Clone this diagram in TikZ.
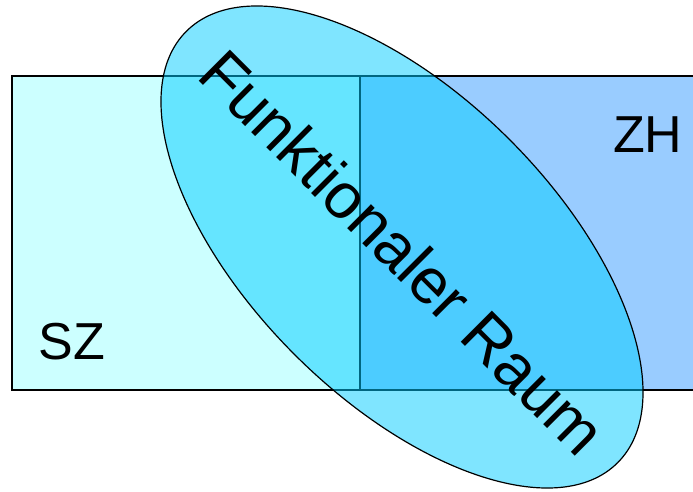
\documentclass[tikz,border=0pt]{standalone}
\usepackage{fontspec}
\setmainfont{Liberation Sans}
\usepackage{xcolor}
\usetikzlibrary{positioning}

\definecolor{szfill}{HTML}{CCFFFF}
\definecolor{zhfill}{HTML}{99CCFF}
\definecolor{raumfill}{HTML}{00CCFF}

\begin{document}
\begin{tikzpicture}[x=1pt, y=1pt]
                \tikzset{
                  zone/.style={
                    draw=black,
                    line width=1.1pt,
                  },
                  raum/.style={
                    draw=black,
                    line width=1.2pt,
                    fill=raumfill,
                    fill opacity=0.5, % only the fill is see-through
                    draw opacity=1,
                  },
                  zonelabel/.style={
                    font=\fontsize{52}{60}\selectfont,
                    inner sep=0pt,
                    anchor=base west,
                  },
                  raumlabel/.style={
                    font=\fontsize{64}{72}\selectfont,
                    inner sep=0pt,
                    rotate=-45,
                  },
                }
                \useasboundingbox (0,0) rectangle (693,491);

                % the two zones
                \draw[zone, fill=szfill] (12,101) rectangle (360,415);
                \draw[zone, fill=zhfill] (360,101) rectangle (720,415);

                % functional space across both
                \draw[raum] (402,244) ellipse [x radius=305, y radius=152, rotate=-45];

                \node[zonelabel] (sz) at (38.5,132) {SZ};
                \node[zonelabel] (zh) at (613,338) {ZH};
                \node[raumlabel] (fr) at (403,239) {Funktionaler Raum};
              \end{tikzpicture}
\end{document}
